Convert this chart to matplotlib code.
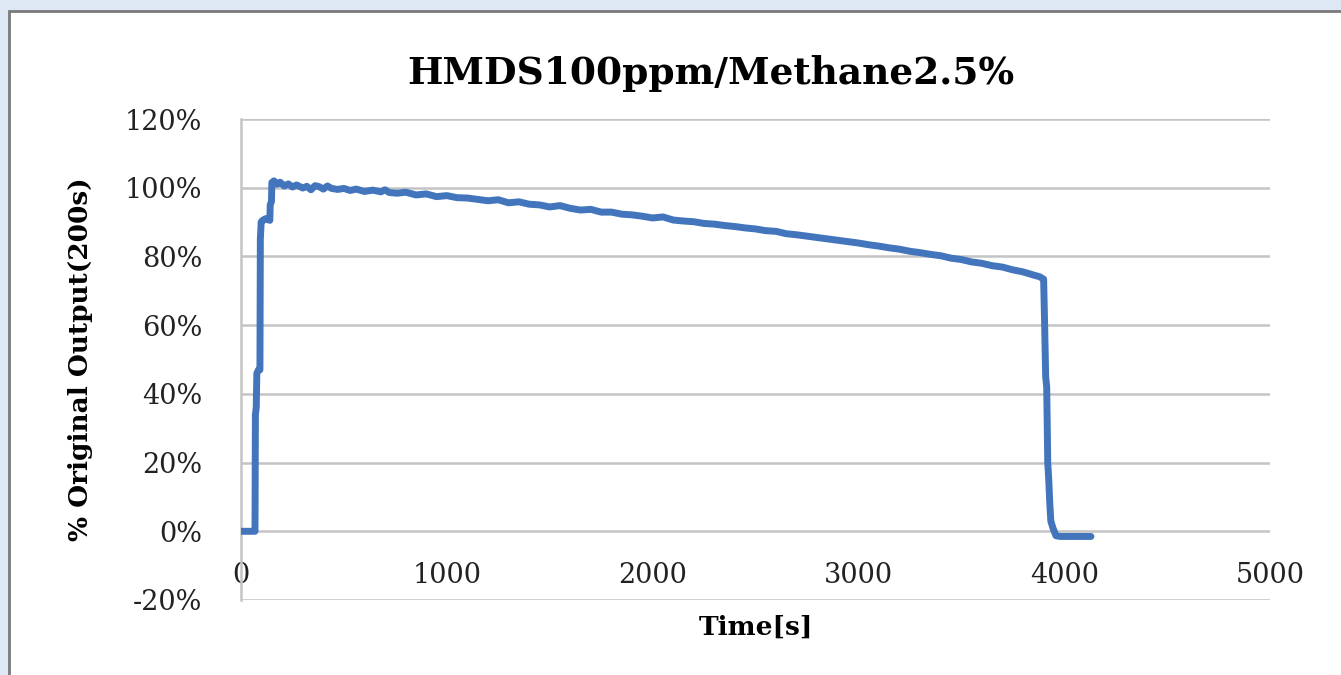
import numpy as np
import matplotlib.pyplot as plt
from matplotlib.patches import Rectangle
from matplotlib.ticker import FuncFormatter

# time [s] and output [% of original output at 200 s]
time_s = [0, 40, 68, 70, 74, 77, 85, 92, 94, 98, 105, 120, 140, 142, 148, 150,
          160, 175, 190, 210, 230, 250, 270, 300, 320, 340, 360, 380, 400, 420,
          440, 470, 500, 530, 560, 600, 640, 680, 700, 720, 760, 800, 850, 900,
          950, 1000, 1050, 1100, 1150, 1200, 1250, 1300, 1350, 1400, 1450, 1500,
          1550, 1600, 1650, 1700, 1750, 1800, 1850, 1900, 1950, 2000, 2050, 2100,
          2150, 2200, 2250, 2300, 2350, 2400, 2450, 2500, 2550, 2600, 2650, 2700,
          2750, 2800, 2850, 2900, 2950, 3000, 3050, 3100, 3150, 3200, 3250, 3300,
          3350, 3400, 3450, 3500, 3550, 3600, 3650, 3700, 3750, 3800, 3850, 3880,
          3900, 3905, 3910, 3915, 3920, 3925, 3930, 3935, 3945, 3960, 3980, 4130]
output_pct = [0, 0, 0, 34, 36, 46, 47, 47, 85, 90, 90.5, 91, 90.5, 95, 96, 101.5,
              102, 101, 101.6, 100.5, 101.1, 100.2, 100.8, 99.9, 100.4, 99.4, 100.6, 100.3, 99.6, 100.5,
              99.8, 99.5, 99.8, 99.2, 99.6, 98.9, 99.3, 98.8, 99.4, 98.6, 98.4, 98.7, 97.9, 98.2,
              97.4, 97.7, 97.1, 97.0, 96.6, 96.2, 96.5, 95.6, 95.9, 95.2, 95.0, 94.4,
              94.8, 94.0, 93.5, 93.7, 92.9, 92.9, 92.3, 92.1, 91.7, 91.2, 91.5, 90.6,
              90.3, 90.1, 89.6, 89.4, 89.0, 88.7, 88.3, 88.0, 87.5, 87.3, 86.6, 86.3,
              85.9, 85.5, 85.1, 84.7, 84.3, 83.9, 83.4, 83.0, 82.5, 82.1, 81.5, 81.1,
              80.6, 80.2, 79.5, 79.1, 78.4, 78.0, 77.3, 76.9, 76.1, 75.5, 74.6, 74.1,
              73.4, 60, 45, 42, 20, 15, 8, 3, 1, -1.3, -1.5, -1.5]

title = 'HMDS100ppm/Methane2.5%'
xlab = 'Time[s]'
ylab = '% Original Output(200s)'
xticks = [0, 1000, 2000, 3000, 4000, 5000]
yticks = [-0.2, 0, 0.2, 0.4, 0.6, 0.8, 1.0, 1.2]

plt.rcParams['font.family'] = ['DejaVu Serif']

fig = plt.figure(figsize=(13.41, 6.75), dpi=100)
fig.patch.set_facecolor('#dde8f4')
fig.patches.append(Rectangle((9 / 1341, -0.05), 1.1, 1 - 11 / 675 + 0.05,
                             transform=fig.transFigure, facecolor='white',
                             edgecolor='#7a7a7a', linewidth=2, zorder=-10))

ax = fig.add_axes([241 / 1341, 1 - 600 / 675, 1029 / 1341, 481 / 675])
ax.set_facecolor('white')

y = np.array(output_pct) / 100
ax.plot(time_s, y, color='#4275bc', linewidth=5, solid_joinstyle='round',
        solid_capstyle='round', zorder=3)

ax.set_xlim(0, 5000)
ax.set_ylim(-0.2, 1.2)
ax.set_xticks(xticks)
ax.set_yticks(yticks)
ax.yaxis.set_major_formatter(FuncFormatter(lambda v, p: f'{v * 100:.0f}%'))
ax.grid(axis='y', color='#c4c4c4', linewidth=1.8, zorder=1)
ax.set_axisbelow(True)

for s in ['top', 'right']:
    ax.spines[s].set_visible(False)
ax.spines['left'].set_color('#c4c4c4')
ax.spines['left'].set_linewidth(1.8)
ax.spines['bottom'].set_position(('data', 0))
ax.spines['bottom'].set_visible(False)

ax.tick_params(axis='x', length=0, pad=22, labelsize=19.5, colors='#222222')
ax.tick_params(axis='y', length=0, pad=28, labelsize=19.5, colors='#222222')

ax.set_title(title, fontsize=27, fontweight='bold', pad=25, x=0.457)
ax.set_xlabel(xlab, fontsize=19, fontweight='bold', va='center')
ax.xaxis.set_label_coords(0.5, -0.056)
ax.set_ylabel(ylab, fontsize=19, fontweight='bold', va='center')
ax.yaxis.set_label_coords(-0.156, 0.5)

fig.savefig('out.png', dpi=100, facecolor=fig.get_facecolor())
